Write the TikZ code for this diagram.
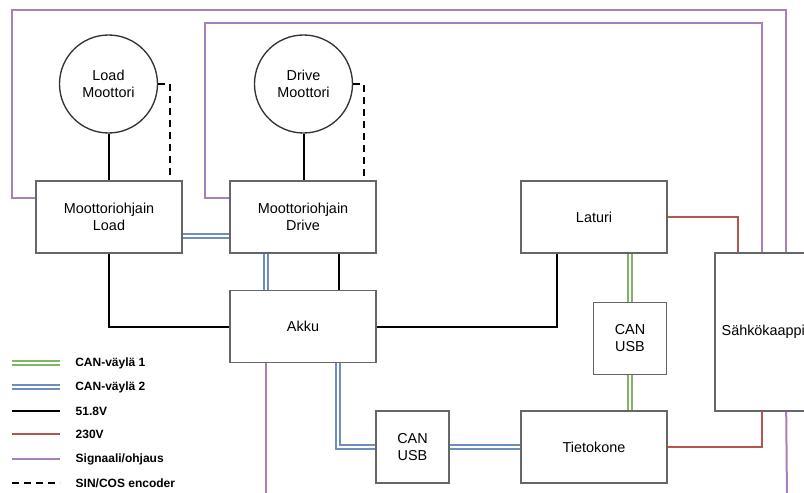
\documentclass[tikz,border=0pt]{standalone}
\usepackage{fontspec}
\setmainfont{Liberation Sans}
\usetikzlibrary{calc}
\definecolor{sigpurple}{HTML}{A680B8}
\definecolor{cangreen}{HTML}{82B366}
\definecolor{canblue}{HTML}{6C8EBF}
\definecolor{acred}{HTML}{B85450}
\definecolor{boxgray}{HTML}{666666}
\tikzset{
  unit/.style={draw=boxgray,line width=1.2pt,fill=white,minimum width=109.5pt,minimum height=54pt,
    align=center,font=\fontsize{10.8}{12.8}\selectfont,inner sep=0pt},
  smallunit/.style={unit,minimum width=55pt},
  motor/.style={circle,draw=black!80,line width=1pt,minimum size=73.5pt,align=center,
    font=\fontsize{10.8}{12.8}\selectfont,inner sep=0pt},
  dc/.style={line width=1.5pt,black},
  ac/.style={line width=1.5pt,acred},
  signal/.style={line width=1.5pt,sigpurple},
  encoder/.style={line width=1.5pt,black,dash pattern=on 5.25pt off 3.75pt},
  canone/.style={line width=1pt,cangreen,double=white,double distance=2.2pt},
  cantwo/.style={line width=1pt,canblue,double=white,double distance=2.2pt},
  legendtext/.style={anchor=west,text=black,font=\fontsize{9}{10}\selectfont\bfseries,inner sep=0pt}
}
\begin{document}
\begin{tikzpicture}[x=0.75pt,y=-0.75pt,line cap=butt,line join=miter]
  \clip (0,0) rectangle (804,493);
  \fill[white] (0,0) rectangle (804,493);
  % corners of the signal wires
  \coordinate (sigA) at (12,10);
  \coordinate (sigB) at (205,23);
  \coordinate (sigC) at (787,500);
  \coordinate (sigD) at (266,500);

  % units
  \node[motor] (loadmot) at (108.5,84) {Load\\Moottori};
  \node[motor] (drivemot) at (303.5,84) {Drive\\Moottori};
  \node[unit] (ohjload) at (109,217) {Moottoriohjain\\Load};
  \node[unit] (ohjdrive) at (303,217) {Moottoriohjain\\Drive};
  \node[unit] (laturi) at (594,217) {Laturi};
  \node[unit] (akku) at (303,326.5) {Akku};
  \node[smallunit] (canusbB) at (630,338.5) {CAN\\USB};
  \node[smallunit] (canusbA) at (412.5,447) {CAN\\USB};
  \node[unit] (tietokone) at (594,447) {Tietokone};
  \node[unit,minimum width=90pt,minimum height=118.5pt,text width=80pt,align=left] (sahko) at (775,332) {Sähkökaappi};

  % motor wiring
  \draw[dc] (loadmot.south) -- (loadmot.south |- ohjload.north);
  \draw[dc] (drivemot.south) -- (drivemot.south |- ohjdrive.north);
  \draw[encoder] (loadmot.east) -| ($(ohjload.north east)+(-13,0)$);
  \draw[encoder] (drivemot.east) -| ($(ohjdrive.north east)+(-13,0)$);

  % 51.8V
  \draw[dc] (ohjload.south) |- (akku.west);
  \draw[dc] ($(ohjdrive.south)+(36,0)$) -- ($(akku.north)+(36,0)$);
  \draw[dc] (akku.east) -| ($(laturi.south)+(-37,0)$);

  % CAN-väylä 2
  \draw[cantwo] ($(ohjload.east)+(0,19)$) -- ($(ohjdrive.west)+(0,19)$);
  \draw[cantwo] ($(ohjdrive.south)+(-37,0)$) -- ($(akku.north)+(-37,0)$);
  \draw[cantwo] ($(akku.south)+(35,0)$) |- (canusbA.west);
  \draw[cantwo] (canusbA.east) -- (tietokone.west);

  % CAN-väylä 1
  \draw[canone] (canusbB.north |- laturi.south) -- (canusbB.north);
  \draw[canone] (canusbB.south) -- (canusbB.south |- tietokone.north);

  % 230V
  \draw[ac] (laturi.east) -| ($(sahko.north west)+(24,0)$);
  \draw[ac] (tietokone.east) -| ($(sahko.south west)+(48,0)$);

  % signal
  \draw[signal] ($(ohjload.west)+(0,-19)$) -| (sigA) -| ($(sahko.north west)+(72,0)$);
  \draw[signal] ($(ohjdrive.west)+(0,-19)$) -| (sigB) -| ($(sahko.north west)+(48,0)$);
  \draw[signal] ($(sahko.south west)+(72,0)$) -- (sigC);
  \draw[signal] ($(akku.south)+(-37,0)$) -- (sigD);

  % legend
  \foreach \y/\sty/\txt [count=\i] in {363/canone/{CAN-väylä 1},387/cantwo/{CAN-väylä 2},
      411/dc/{51.8V},434/ac/{230V},459/signal/{Signaali/ohjaus},483/encoder/{SIN/COS encoder}}
    \draw[\sty] (12,\y) -- (60,\y) node[legendtext,xshift=11pt] (leg\i) {\txt};
\end{tikzpicture}
\end{document}
